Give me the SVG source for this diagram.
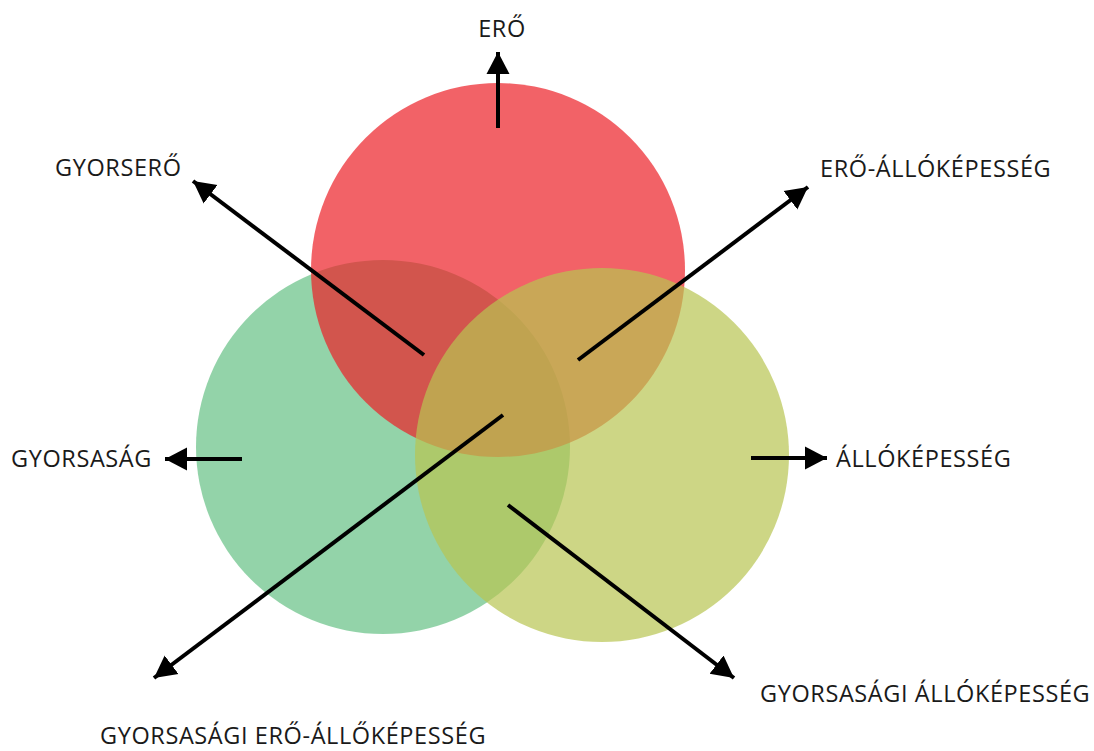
<svg xmlns="http://www.w3.org/2000/svg" width="1094" height="751" viewBox="0 0 1094 751">
<style>
.lbl{font-family:"Open Sans","Noto Sans",sans-serif;font-size:23.5px;fill:#1a1a1a;letter-spacing:0.6px}
.c{opacity:0.7}
.arr{stroke:#000;stroke-width:4;fill:none;marker-end:url(#ah)}
</style>
<defs>
<marker id="ah" markerUnits="userSpaceOnUse" markerWidth="26" markerHeight="26" viewBox="0 0 26 26" refX="22" refY="13" orient="auto">
<path d="M0,1.5 L22,13 L0,24.5 Z" fill="#000"/>
</marker>
</defs>
<g id="circle-gyorsasag"><circle class="c" cx="383" cy="447" r="187" fill="#65C084"/></g>
<g id="circle-ero"><circle class="c" cx="498" cy="270" r="187" fill="#EC1F27"/></g>
<g id="circle-allokepesseg"><circle class="c" cx="602" cy="455" r="187" fill="#B8C451"/></g>
<g id="connectors">
<line class="arr" x1="498" y1="128" x2="498" y2="52"/>
<line class="arr" x1="424" y1="355" x2="193" y2="181"/>
<line class="arr" x1="578" y1="360" x2="808" y2="187"/>
<line class="arr" x1="242" y1="459" x2="165" y2="459"/>
<line class="arr" x1="751" y1="458" x2="827" y2="458"/>
<line class="arr" x1="503" y1="415" x2="154" y2="678"/>
<line class="arr" x1="508" y1="505" x2="734" y2="678"/>
</g>
<g id="label-ero"><text class="lbl" x="502" y="37" text-anchor="middle">ERŐ</text></g>
<g id="label-gyorsero"><text class="lbl" x="55" y="176">GYORSERŐ</text></g>
<g id="label-ero-allokepesseg"><text class="lbl" x="820" y="177">ERŐ-ÁLLÓKÉPESSÉG</text></g>
<g id="label-gyorsasag"><text class="lbl" x="11" y="467">GYORSASÁG</text></g>
<g id="label-allokepesseg"><text class="lbl" x="836" y="467">ÁLLÓKÉPESSÉG</text></g>
<g id="label-gyorsasagi-ero-allokepesseg"><text class="lbl" x="100" y="744">GYORSASÁGI ERŐ-ÁLLŐKÉPESSÉG</text></g>
<g id="label-gyorsasagi-allokepesseg"><text class="lbl" x="760" y="702">GYORSASÁGI ÁLLÓKÉPESSÉG</text></g>
</svg>
